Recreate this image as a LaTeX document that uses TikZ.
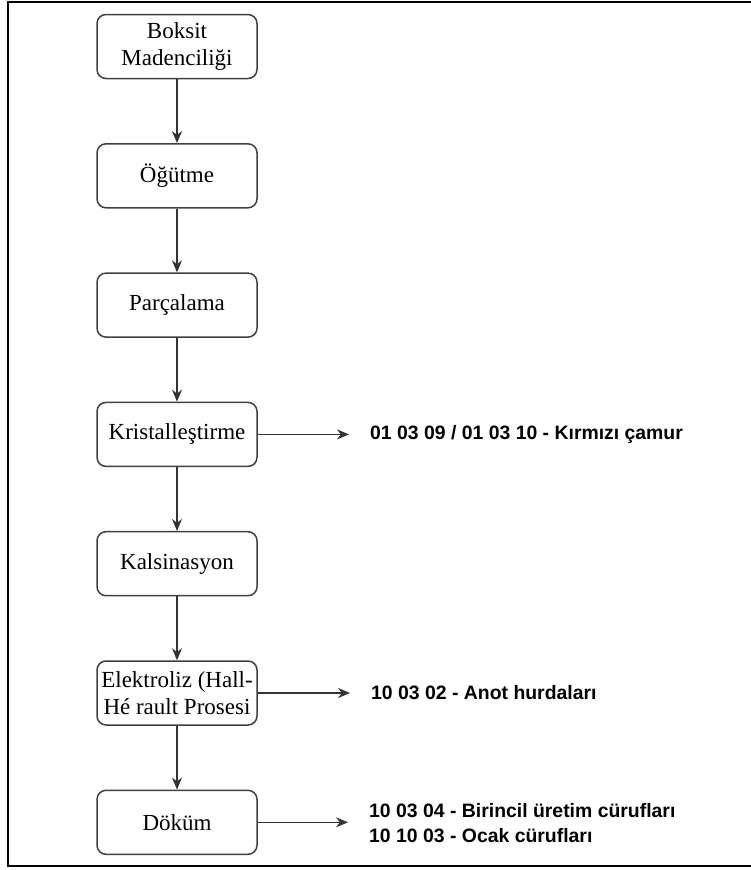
\documentclass[tikz,border=0pt]{standalone}
\usepackage{fontspec}
\setmainfont{Liberation Serif}
\newfontfamily\lblfont{Liberation Sans}
\usetikzlibrary{positioning,arrows.meta}
\definecolor{boxline}{HTML}{404040}
\definecolor{arrowline}{HTML}{333333}

\begin{document}
\begin{tikzpicture}[x=1pt, y=-1pt,
  stepbox/.style={draw=boxline, line width=1.5pt, rounded corners=9pt, fill=white,
    minimum width=160pt, minimum height=64pt, align=center, inner sep=1pt,
    font=\fontsize{23}{27}\selectfont},
  outlbl/.style={anchor=west, inner sep=0pt, align=left,
    font=\lblfont\bfseries\fontsize{19.4}{24.5}\selectfont},
  flow/.style={draw=arrowline, line width=1.4pt, -{Stealth[length=12pt,width=10pt]}}]
\useasboundingbox (0,0) rectangle (751,870);
\draw[line width=2pt] (751,2) -- (8,2) -- (8,866) -- (751,866);
% process steps, top to bottom
\foreach \t [count=\i] in {{Boksit\\Madenciliği}, Öğütme, Parçalama, Kristalleştirme,
    Kalsinasyon, {Elektroliz (Hall-\\Hé rault Prosesi}, Döküm}
  \node[stepbox] (s\i) at (177,{46.5+129.3*(\i-1)}) {\t};
\foreach \i/\j in {1/2,2/3,3/4,4/5,5/6,6/7} \draw[flow] (s\i) -- (s\j);
% waste codes
\node[outlbl] (w4) at (370,434) {01 03 09 / 01 03 10 - Kırmızı çamur};
\node[outlbl] (w6) at (371,693) {10 03 02 - Anot hurdaları};
\node[outlbl] (w7) at (369,823) {10 03 04 - Birincil üretim cürufları\\10 10 03 - Ocak cürufları};
\foreach \i in {4,6,7} \draw[flow, shorten >=21pt] (s\i.east) -- (s\i.east -| w\i.west);
\end{tikzpicture}
\end{document}
